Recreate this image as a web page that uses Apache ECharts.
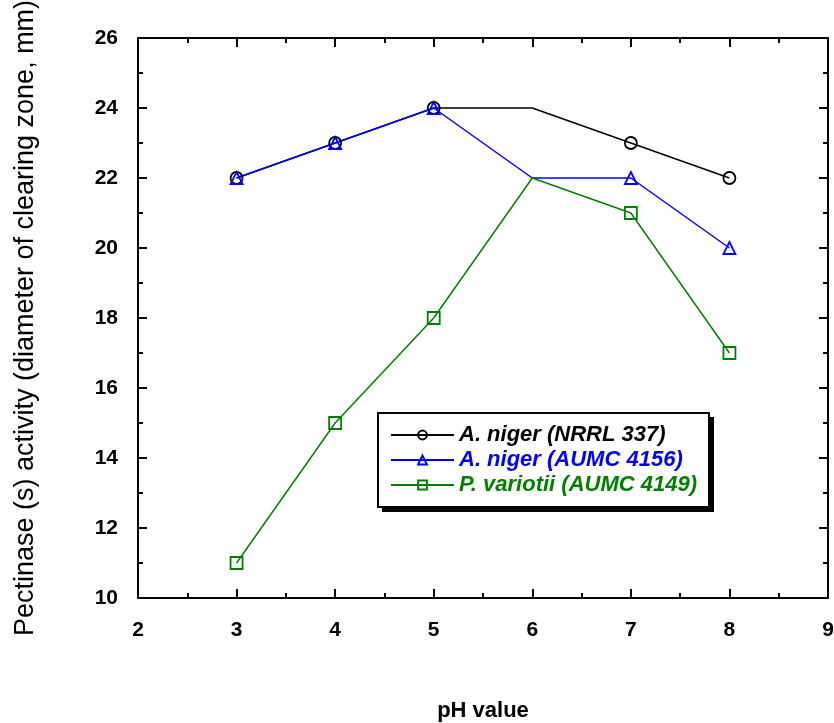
<!DOCTYPE html>
<html>
<head>
<meta charset="utf-8">
<script src="https://cdn.jsdelivr.net/npm/echarts@6/dist/echarts.min.js"></script>
<style>
  html, body { margin: 0; padding: 0; background: #fff; }
  #chart { width: 834px; height: 723px; }
</style>
</head>
<body>
<div id="chart"></div>
<script>
const phValues = [3, 4, 5, 6, 7, 8];
const nrrl337 = [22, 23, 24, 24, 23, 22];
const aumc4156 = [22, 23, 24, 22, 22, 20];
const aumc4149 = [11, 15, 18, 22, 21, 17];
const seriesNames = ['A. niger (NRRL 337)', 'A. niger (AUMC 4156)', 'P. variotii (AUMC 4149)'];
const seriesColors = ['#000000', '#0000ff', '#008000'];
const seriesSymbols = ['circle', 'triangle', 'rect'];

// pH 6 has no marker in the original, only the line bend
const toPoints = (vals) => vals.map((v, i) => (
  phValues[i] === 6 ? { value: [phValues[i], v], symbol: 'none' } : [phValues[i], v]
));

const chart = echarts.init(document.getElementById('chart'));
const font = 'Liberation Sans, Arial, sans-serif';
const tickFont = { color: '#000', fontSize: 21, fontWeight: 'bold', fontFamily: font };
const axisLine = { show: true, lineStyle: { color: '#000', width: 2 } };
const ticks = { inside: true, length: 9, lineStyle: { color: '#000', width: 2 } };
const minor = { show: true, splitNumber: 2, length: 5, lineStyle: { color: '#000', width: 2 } };

const option = {
  backgroundColor: '#fff',
  animation: false,
  grid: { left: 138, right: 6, top: 38, bottom: 125, containLabel: false, outerBoundsMode: 'none' },
  legend: {
    orient: 'vertical',
    left: 378,
    top: 413,
    z: 10,
    padding: [11, 12, 11, 12],
    itemGap: 3,
    itemWidth: 63,
    itemHeight: 11,
    backgroundColor: '#fff',
    borderColor: '#000',
    borderWidth: 2,
    borderRadius: 0,
    textStyle: { fontSize: 22, fontWeight: 'bold', fontStyle: 'italic', fontFamily: font },
    data: seriesNames.map((n, i) => ({ name: n, textStyle: { color: seriesColors[i] } }))
  },
  // drop shadow behind the legend box
  graphic: [{
    type: 'rect', left: 382, top: 417, z: 5, silent: true,
    shape: { width: 332, height: 95 },
    style: { fill: '#000' }
  }],
  xAxis: [
    {
      type: 'value', min: 2, max: 9, interval: 1,
      name: 'pH value', nameLocation: 'middle', nameGap: 102,
      nameTextStyle: { color: '#000', fontSize: 22, fontWeight: 'bold', fontFamily: font },
      axisLine: axisLine, axisTick: ticks, minorTick: minor,
      axisLabel: Object.assign({ margin: 22 }, tickFont),
      splitLine: { show: false }
    },
    {
      type: 'value', min: 2, max: 9, interval: 1, position: 'top',
      axisLine: axisLine, axisTick: ticks, minorTick: minor,
      axisLabel: { show: false },
      splitLine: { show: false }
    }
  ],
  yAxis: [
    {
      type: 'value', min: 10, max: 26, interval: 2,
      name: 'Pectinase (s) activity (diameter of clearing zone, mm)', nameLocation: 'middle', nameGap: 99,
      nameTextStyle: { color: '#000', fontSize: 27, fontFamily: font },
      axisLine: axisLine, axisTick: ticks, minorTick: minor,
      axisLabel: Object.assign({ margin: 20 }, tickFont),
      splitLine: { show: false }
    },
    {
      type: 'value', min: 10, max: 26, interval: 2, position: 'right',
      axisLine: axisLine, axisTick: ticks, minorTick: minor,
      axisLabel: { show: false },
      splitLine: { show: false }
    }
  ],
  series: [nrrl337, aumc4156, aumc4149].map((vals, i) => ({
    name: seriesNames[i],
    type: 'line',
    data: toPoints(vals),
    symbol: seriesSymbols[i],
    symbolSize: 12,
    color: seriesColors[i],
    lineStyle: { color: seriesColors[i], width: 1.5 },
    itemStyle: { color: 'transparent', borderColor: seriesColors[i], borderWidth: 1.8 }
  }))
};

chart.setOption(option);
</script>
</body>
</html>
